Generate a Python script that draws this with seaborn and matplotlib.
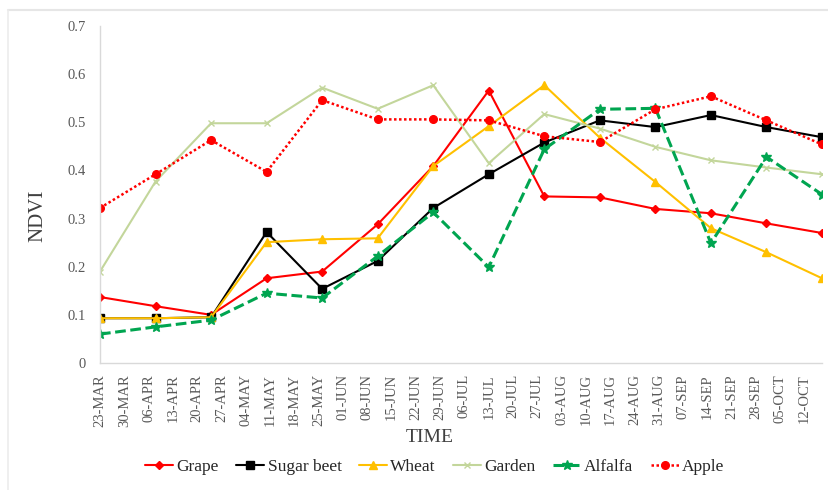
import numpy as np
import pandas as pd
import seaborn as sns
import matplotlib
matplotlib.use('Agg')
import matplotlib.pyplot as plt
from matplotlib.lines import Line2D

sns.set_style('white')
plt.rcParams['font.family'] = ['Liberation Serif', 'DejaVu Serif']

# image dates (16 day revisit)
dates = ['2019-03-23', '2019-04-08', '2019-04-24', '2019-05-10', '2019-05-26',
         '2019-06-11', '2019-06-27', '2019-07-13', '2019-07-29', '2019-08-14',
         '2019-08-30', '2019-09-15', '2019-10-01', '2019-10-17']

# weekly axis labels
tick_labels = ['23-MAR', '30-MAR', '06-APR', '13-APR', '20-APR', '27-APR', '04-MAY',
               '11-MAY', '18-MAY', '25-MAY', '01-JUN', '08-JUN', '15-JUN', '22-JUN',
               '29-JUN', '06-JUL', '13-JUL', '20-JUL', '27-JUL', '03-AUG', '10-AUG',
               '17-AUG', '24-AUG', '31-AUG', '07-SEP', '14-SEP', '21-SEP', '28-SEP',
               '05-OCT', '12-OCT']

grape = [0.137, 0.118, 0.100, 0.176, 0.190, 0.288, 0.409, 0.566, 0.346, 0.344,
         0.320, 0.311, 0.290, 0.270]
sugar_beet = [0.093, 0.093, 0.095, 0.272, 0.154, 0.212, 0.322, 0.392, 0.458, 0.504,
              0.490, 0.515, 0.490, 0.469]
wheat = [0.093, 0.093, 0.095, 0.251, 0.257, 0.259, 0.409, 0.492, 0.577, 0.468,
         0.376, 0.280, 0.230, 0.176]
garden = [0.190, 0.377, 0.498, 0.498, 0.572, 0.528, 0.577, 0.415, 0.517, 0.487,
          0.449, 0.421, 0.406, 0.392]
alfalfa = [0.060, 0.075, 0.089, 0.145, 0.135, 0.222, 0.313, 0.199, 0.444, 0.527,
           0.529, 0.249, 0.428, 0.350]
apple = [0.322, 0.392, 0.463, 0.397, 0.546, 0.506, 0.506, 0.504, 0.471, 0.459,
         0.527, 0.554, 0.504, 0.454]

x = pd.to_datetime(dates)
tick_pos = pd.date_range('2019-03-23', periods=len(tick_labels), freq='7D')

fig = plt.figure(figsize=(8.29, 4.90), dpi=100)
ax = fig.add_axes([100/829, 1-363/490, 722/829, 337/490])

styles = [
    ('Grape', grape, dict(color='#ff0000', marker='D', markersize=4, linewidth=1.5, linestyle='-')),
    ('Sugar beet', sugar_beet, dict(color='#000000', marker='s', markersize=5.5, linewidth=1.5, linestyle='-')),
    ('Wheat', wheat, dict(color='#ffc000', marker='^', markersize=6, linewidth=1.5, linestyle='-')),
    ('Garden', garden, dict(color='#c3d69b', marker='x', markersize=5, linewidth=1.5, linestyle='-')),
    ('Alfalfa', alfalfa, dict(color='#00a550', marker='*', markersize=7, linewidth=2.2, linestyle=(0, (3.5, 1.5)))),
    ('Apple', apple, dict(color='#ff0000', marker='o', markersize=5.5, linewidth=1.8, linestyle=(0, (1, 1)))),
]

handles = []
for name, vals, kw in styles:
    sns.lineplot(x=x, y=vals, ax=ax, markeredgewidth=1, markeredgecolor=kw['color'], **kw)
    handles.append(Line2D([], [], markeredgewidth=1, markeredgecolor=kw['color'], **kw))

ax.set_xlim(x[0], x[-1])
ax.set_ylim(0, 0.7)
ax.set_yticks(np.arange(0, 0.71, 0.1))
ax.set_yticklabels(['0', '0.1', '0.2', '0.3', '0.4', '0.5', '0.6', '0.7'],
                   fontsize=10.5, color='#595959')
ax.set_xticks(tick_pos)
ax.set_xticklabels(tick_labels, rotation=90, fontsize=10.5, color='#595959')
ax.tick_params(axis='y', length=0, pad=10)
ax.tick_params(axis='x', length=0, pad=8)

for s in ['top', 'right']:
    ax.spines[s].set_visible(False)
for s in ['left', 'bottom']:
    ax.spines[s].set_color('#d9d9d9')
    ax.spines[s].set_linewidth(1)

ax.set_xlabel('')
ax.set_ylabel('')
fig.text(38/829, 1-216/490, 'NDVI', fontsize=15, color='#404040', rotation=90,
         ha='center', va='center')
fig.text(430/829, 1-438/490, 'TIME', fontsize=14, color='#404040', ha='center', va='center')

fig.legend(handles, [s[0] for s in styles], loc='center', ncol=6,
           bbox_to_anchor=(435/829, 1-467/490), frameon=False, fontsize=12.5,
           handlelength=1.6, handletextpad=0.2, columnspacing=1.0)

# chart border (top and left edges visible)
fig.add_artist(Line2D([8/829, 1], [1-10/490, 1-10/490], color='#e6e6e6', linewidth=1.5))
fig.add_artist(Line2D([8/829, 8/829], [0, 1-10/490], color='#ececec', linewidth=1.2))

fig.savefig('out.png', dpi=100)
